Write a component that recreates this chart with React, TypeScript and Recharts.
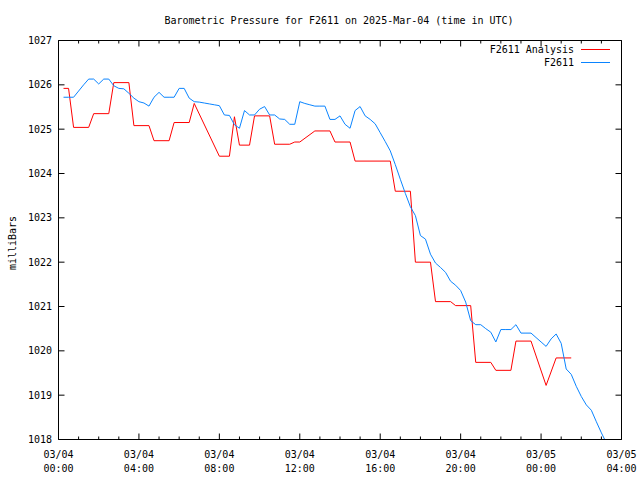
import { LineChart, Line, XAxis, YAxis } from 'recharts'

// hours since 03/04 00:00 UTC
const analysisTimes = [
  0.25, 0.5, 0.75, 1.5, 1.75, 2.5, 2.75, 3.5, 3.75, 4.5, 4.75, 5.5, 5.75, 6.5, 6.75, 8.0,
  8.5, 8.75, 9.0, 9.5, 9.75, 10.5, 10.75, 11.5, 11.75, 12.0, 12.75, 13.5, 13.75, 14.5, 14.75,
  16.5, 16.75, 17.5, 17.75, 18.5, 18.75, 19.5, 19.75, 20.5, 20.75, 21.5, 21.75, 22.5, 22.75,
  23.5, 24.25, 24.75, 25.5,
]
const analysisValues = [
  1025.92, 1025.92, 1025.04, 1025.04, 1025.35, 1025.35, 1026.05, 1026.05, 1025.08, 1025.08,
  1024.74, 1024.74, 1025.15, 1025.15, 1025.58, 1024.39, 1024.39, 1025.28, 1024.64, 1024.64,
  1025.3, 1025.3, 1024.66, 1024.66, 1024.71, 1024.71, 1024.96, 1024.96, 1024.71, 1024.71,
  1024.28, 1024.28, 1023.6, 1023.6, 1022.0, 1022.0, 1021.11, 1021.11, 1021.02, 1021.02,
  1019.74, 1019.74, 1019.56, 1019.56, 1020.22, 1020.22, 1019.22, 1019.84, 1019.84,
]

// station readings every 15 minutes, first one at 00:15
const stationValues = [
  1025.72, 1025.72, 1025.72, 1025.86, 1026.0, 1026.13, 1026.13, 1026.02, 1026.13, 1026.13,
  1025.98, 1025.92, 1025.91, 1025.81, 1025.7, 1025.62, 1025.59, 1025.52, 1025.72, 1025.83,
  1025.72, 1025.72, 1025.72, 1025.92, 1025.92, 1025.7, 1025.62, 1025.61, 1025.59, 1025.57,
  1025.55, 1025.53, 1025.32, 1025.31, 1025.1, 1025.02, 1025.42, 1025.32, 1025.32, 1025.45,
  1025.51, 1025.32, 1025.32, 1025.23, 1025.22, 1025.11, 1025.11, 1025.62, 1025.58, 1025.55,
  1025.52, 1025.52, 1025.52, 1025.22, 1025.22, 1025.3, 1025.11, 1025.02, 1025.42, 1025.51,
  1025.3, 1025.22, 1025.12, 1024.92, 1024.72, 1024.51, 1024.2, 1023.87, 1023.55, 1023.25,
  1023.05, 1022.6, 1022.52, 1022.18, 1021.98, 1021.88, 1021.77, 1021.57, 1021.48, 1021.36,
  1021.1, 1020.68, 1020.59, 1020.59, 1020.5, 1020.42, 1020.2, 1020.48, 1020.48, 1020.48,
  1020.59, 1020.4, 1020.4, 1020.4, 1020.3, 1020.2, 1020.1, 1020.27, 1020.38, 1020.17,
  1019.59, 1019.47, 1019.2, 1018.97, 1018.78, 1018.66, 1018.4, 1018.15, 1017.92,
]

const hourTicks = Array.from({ length: 29 }, (_, i) => i)
const pressureTicks = [1018, 1019, 1020, 1021, 1022, 1023, 1024, 1025, 1026, 1027]
const dateLabels = ['03/04', '03/04', '03/04', '03/04', '03/04', '03/04', '03/05', '03/05']
const timeLabels = ['00:00', '04:00', '08:00', '12:00', '16:00', '20:00', '00:00', '04:00']

const analysisData = analysisTimes.map((t, i) => ({ t, p: analysisValues[i] }))
const stationData = stationValues.map((p, i) => ({ t: (i + 1) * 0.25, p }))

const LEFT = 58.5
const RIGHT = 621.5
const TOP = 40.5
const BOTTOM = 439.5
const font = { fontFamily: '"DejaVu Sans Mono", monospace', fontSize: 10, fill: '#000' }
const RED = '#ff0000'
const BLUE = '#0a84ff'

const BottomTick = ({ x, payload }: any) => {
  const h = payload.value
  const major = h % 4 === 0
  return (
    <g>
      <line x1={x} x2={x} y1={BOTTOM} y2={BOTTOM - (major ? 6 : 3)} stroke="#000" />
      {major && (
        <>
          <text x={x} y={458} textAnchor="middle" {...font}>{dateLabels[h / 4]}</text>
          <text x={x} y={472} textAnchor="middle" {...font}>{timeLabels[h / 4]}</text>
        </>
      )}
    </g>
  )
}

const TopTick = ({ x, payload }: any) => {
  const major = payload.value % 4 === 0
  return <line x1={x} x2={x} y1={TOP} y2={TOP + (major ? 6 : 3)} stroke="#000" />
}

const LeftTick = ({ y, payload }: any) => (
  <g>
    <line x1={LEFT} x2={LEFT + 6} y1={y} y2={y} stroke="#000" />
    <text x={52} y={y + 3.5} textAnchor="end" {...font}>{payload.value}</text>
  </g>
)

const RightTick = ({ y }: any) => <line x1={RIGHT - 6} x2={RIGHT} y1={y} y2={y} stroke="#000" />

export default function App() {
  return (
    <div style={{ position: 'absolute', left: 0, top: 0, width: 640, height: 480, background: '#fff' }}>
      <LineChart
        width={640}
        height={480}
        margin={{ top: TOP - 1, right: 640 - RIGHT - 1, bottom: 0, left: 0.5 }}
      >
        <XAxis
          xAxisId="b"
          dataKey="t"
          type="number"
          domain={[0, 28]}
          ticks={hourTicks}
          interval={0}
          height={480 - BOTTOM}
          tickLine={false}
          tick={<BottomTick />}
          axisLine={{ stroke: '#000' }}
          allowDataOverflow
        />
        <XAxis
          xAxisId="top"
          orientation="top"
          dataKey="t"
          type="number"
          domain={[0, 28]}
          ticks={hourTicks}
          interval={0}
          height={1}
          tickLine={false}
          tick={<TopTick />}
          axisLine={{ stroke: '#000' }}
          allowDataOverflow
        />
        <YAxis
          yAxisId="l"
          type="number"
          domain={[1018, 1027]}
          ticks={pressureTicks}
          interval={0}
          width={58}
          tickLine={false}
          tick={<LeftTick />}
          axisLine={{ stroke: '#000' }}
          allowDataOverflow
        />
        <YAxis
          yAxisId="r"
          orientation="right"
          type="number"
          domain={[1018, 1027]}
          ticks={pressureTicks}
          interval={0}
          width={1}
          tickLine={false}
          tick={<RightTick />}
          axisLine={{ stroke: '#000' }}
          allowDataOverflow
        />
        <Line
          data={analysisData}
          xAxisId="b"
          yAxisId="l"
          dataKey="p"
          type="linear"
          stroke={RED}
          strokeWidth={1}
          dot={false}
          isAnimationActive={false}
        />
        <Line
          data={stationData}
          xAxisId="b"
          yAxisId="l"
          dataKey="p"
          type="linear"
          stroke={BLUE}
          strokeWidth={1}
          dot={false}
          isAnimationActive={false}
        />
        <Line
          data={stationData}
          xAxisId="top"
          yAxisId="r"
          dataKey="p"
          stroke="none"
          dot={false}
          legendType="none"
          isAnimationActive={false}
        />
      </LineChart>
      <svg width={640} height={480} style={{ position: 'absolute', left: 0, top: 0, pointerEvents: 'none' }}>
        <text x={339} y={23.5} textAnchor="middle" {...font}>
          Barometric Pressure for F2611 on 2025-Mar-04 (time in UTC)
        </text>
        <text transform="translate(16,243) rotate(-90)" textAnchor="middle" {...font}>milliBars</text>
        <text x={574} y={52.5} textAnchor="end" {...font}>F2611 Analysis</text>
        <line x1={581} x2={610} y1={49.5} y2={49.5} stroke={RED} />
        <text x={574} y={66} textAnchor="end" {...font}>F2611</text>
        <line x1={581} x2={610} y1={62.5} y2={62.5} stroke={BLUE} />
      </svg>
    </div>
  )
}
